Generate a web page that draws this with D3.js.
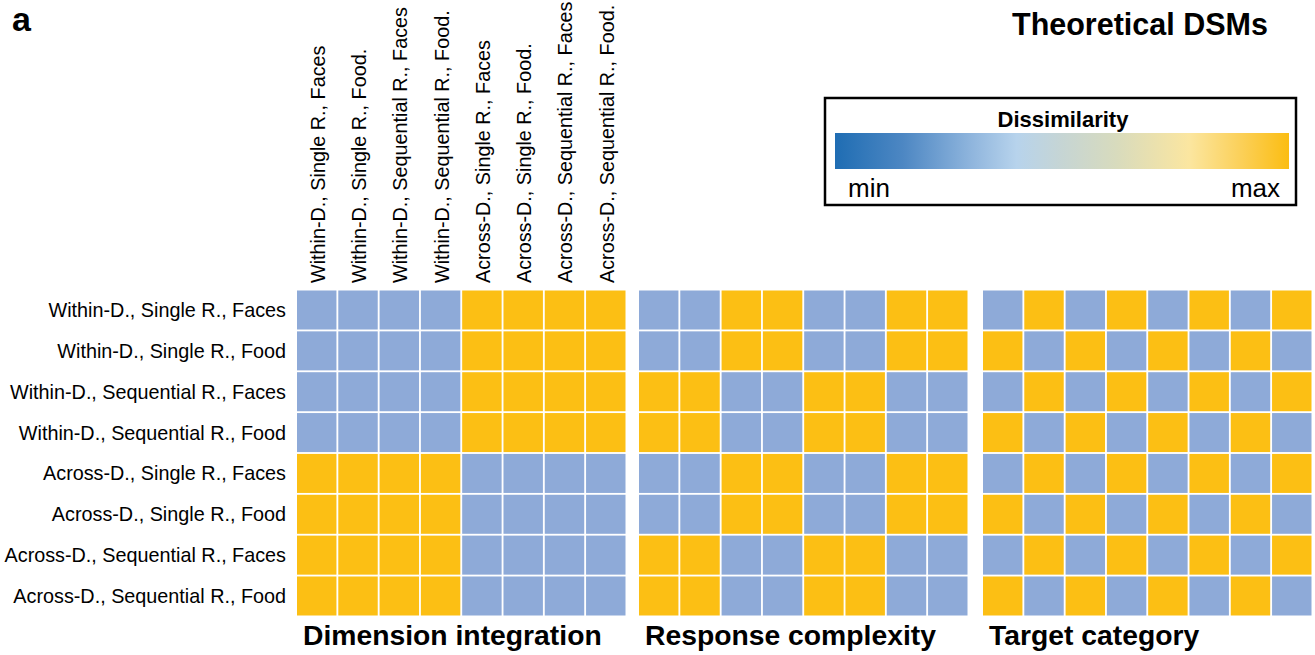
<!DOCTYPE html>
<html>
<head>
<meta charset="utf-8">
<script src="https://cdn.jsdelivr.net/npm/d3@7"></script>
<style>
  html, body { margin: 0; padding: 0; background: #fff; }
  svg { display: block; font-family: "Liberation Sans", Arial, sans-serif; }
</style>
</head>
<body>
<svg id="chart" width="1315" height="655"></svg>
<script>
// Condition labels (rows and columns share the same order)
const rowLabels = [
  "Within-D., Single R., Faces",
  "Within-D., Single R., Food",
  "Within-D., Sequential R., Faces",
  "Within-D., Sequential R., Food",
  "Across-D., Single R., Faces",
  "Across-D., Single R., Food",
  "Across-D., Sequential R., Faces",
  "Across-D., Sequential R., Food"
];
const colLabels = [
  "Within-D., Single R., Faces",
  "Within-D., Single R., Food.",
  "Within-D., Sequential R., Faces",
  "Within-D., Sequential R., Food.",
  "Across-D., Single R., Faces",
  "Across-D., Single R., Food.",
  "Across-D., Sequential R., Faces",
  "Across-D., Sequential R., Food."
];

// Theoretical dissimilarity matrices (0 = min, 1 = max)
const dimensionIntegration = [
  [0,0,0,0,1,1,1,1],
  [0,0,0,0,1,1,1,1],
  [0,0,0,0,1,1,1,1],
  [0,0,0,0,1,1,1,1],
  [1,1,1,1,0,0,0,0],
  [1,1,1,1,0,0,0,0],
  [1,1,1,1,0,0,0,0],
  [1,1,1,1,0,0,0,0]
];
const responseComplexity = [
  [0,0,1,1,0,0,1,1],
  [0,0,1,1,0,0,1,1],
  [1,1,0,0,1,1,0,0],
  [1,1,0,0,1,1,0,0],
  [0,0,1,1,0,0,1,1],
  [0,0,1,1,0,0,1,1],
  [1,1,0,0,1,1,0,0],
  [1,1,0,0,1,1,0,0]
];
const targetCategory = [
  [0,1,0,1,0,1,0,1],
  [1,0,1,0,1,0,1,0],
  [0,1,0,1,0,1,0,1],
  [1,0,1,0,1,0,1,0],
  [0,1,0,1,0,1,0,1],
  [1,0,1,0,1,0,1,0],
  [0,1,0,1,0,1,0,1],
  [1,0,1,0,1,0,1,0]
];

const panelTitles = ["Dimension integration", "Response complexity", "Target category"];
const panelData = [dimensionIntegration, responseComplexity, targetCategory];

const legendTitle = "Dissimilarity";
const legendTicks = ["min", "max"];

const svg = d3.select("#chart");

// Cell colours for the two theoretical levels
const cellColor = d3.scaleOrdinal().domain([0, 1]).range(["#8eaad8", "#fcbf14"]);

// Panel layout
const panelX = [297, 639, 983];
const panelW = 328.5;
const gridTop = 290.5, gridBottom = 615.5;

const y = d3.scaleBand()
  .domain(d3.range(rowLabels.length))
  .range([gridTop, gridBottom])
  .paddingInner(0.045)
  .paddingOuter(0);

panelData.forEach((m, p) => {
  const x = d3.scaleBand()
    .domain(d3.range(colLabels.length))
    .range([panelX[p], panelX[p] + panelW])
    .paddingInner(0.045)
    .paddingOuter(0);

  const g = svg.append("g");
  const cells = [];
  m.forEach((row, i) => row.forEach((v, j) => cells.push({ i, j, v })));

  g.selectAll("rect")
    .data(cells)
    .join("rect")
    .attr("x", d => x(d.j))
    .attr("y", d => y(d.i))
    .attr("width", x.bandwidth())
    .attr("height", y.bandwidth())
    .attr("fill", d => cellColor(d.v));

  g.append("text")
    .attr("x", panelX[p] + 6)
    .attr("y", 645)
    .attr("font-size", 28.3)
    .attr("font-weight", "bold")
    .attr("fill", "#000")
    .text(panelTitles[p]);

  // Column labels above the first panel, reading bottom-to-top
  if (p === 0) {
    g.selectAll("text.col")
      .data(colLabels)
      .join("text")
      .attr("class", "col")
      .attr("transform", (d, j) => `translate(${x(j) + x.bandwidth() / 2 + 1},283) rotate(-90)`)
      .attr("text-anchor", "start")
      .attr("dominant-baseline", "central")
      .attr("font-size", 19.8)
      .attr("fill", "#000")
      .text(d => d);
  }
});

// Row labels
svg.append("g")
  .selectAll("text")
  .data(rowLabels)
  .join("text")
  .attr("x", 286)
  .attr("y", (d, i) => y(i) + y.bandwidth() / 2)
  .attr("dominant-baseline", "central")
  .attr("text-anchor", "end")
  .attr("font-size", 19.8)
  .attr("fill", "#000")
  .text(d => d);

// Panel letter and figure title
svg.append("text")
  .attr("x", 12).attr("y", 31)
  .attr("font-size", 34).attr("font-weight", "bold")
  .text("a");

svg.append("text")
  .attr("x", 1012).attr("y", 35)
  .attr("font-size", 30.5).attr("font-weight", "bold")
  .text("Theoretical DSMs");

// Colour bar legend
const defs = svg.append("defs");
const grad = defs.append("linearGradient").attr("id", "dissim-grad")
  .attr("x1", "0%").attr("x2", "100%").attr("y1", "0%").attr("y2", "0%");
const gradStops = [
  [0.00, "#1f6db3"],
  [0.15, "#4d87c3"],
  [0.30, "#8fb5dd"],
  [0.40, "#b7d3ec"],
  [0.50, "#c6d5d4"],
  [0.62, "#d8dbbd"],
  [0.78, "#fbe6a0"],
  [0.90, "#fbcf55"],
  [1.00, "#fbbd12"]
];
grad.selectAll("stop")
  .data(gradStops)
  .join("stop")
  .attr("offset", d => d[0])
  .attr("stop-color", d => d[1]);

const legend = svg.append("g");
legend.append("rect")
  .attr("x", 825).attr("y", 98)
  .attr("width", 471).attr("height", 107)
  .attr("fill", "#fff").attr("stroke", "#000").attr("stroke-width", 2.5);

const barScale = d3.scaleLinear().domain([0, 1]).range([835, 1289]);
legend.append("rect")
  .attr("x", barScale(0)).attr("y", 133)
  .attr("width", barScale(1) - barScale(0)).attr("height", 36)
  .attr("fill", "url(#dissim-grad)");

legend.append("text")
  .attr("x", 1063).attr("y", 127)
  .attr("text-anchor", "middle")
  .attr("font-size", 22).attr("font-weight", "bold")
  .text(legendTitle);

legend.selectAll("text.tick")
  .data(legendTicks)
  .join("text")
  .attr("class", "tick")
  .attr("x", (d, i) => i === 0 ? barScale(0) + 13 : barScale(1) - 9)
  .attr("y", 197)
  .attr("text-anchor", (d, i) => i === 0 ? "start" : "end")
  .attr("font-size", 26)
  .text(d => d);
</script>
</body>
</html>
